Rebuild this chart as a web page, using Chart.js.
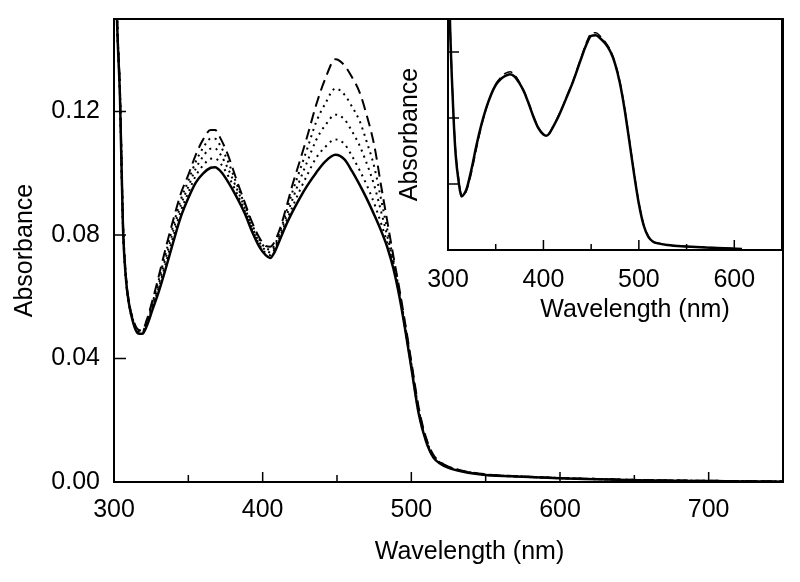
<!DOCTYPE html>
<html>
<head>
<meta charset="utf-8">
<script src="https://cdn.jsdelivr.net/npm/chart.js@4"></script>
<style>
  body { margin: 0; background: #fff; }
  #wrap { position: relative; width: 800px; height: 582px; }
  #main { position: absolute; left: 0; top: 0; }
  #inset { position: absolute; left: 390px; top: 0; }
</style>
</head>
<body>
<div id="wrap">
  <canvas id="main" width="800" height="582"></canvas>
  <canvas id="inset" width="410" height="340"></canvas>
</div>
<script>
// UV-vis spectra: main panel (solid, 3 dotted, dashed) + inset (solid, dashed)

// main panel wavelengths (nm)
const wavelengths = [300, 302, 304, 306, 308, 310, 313, 316, 319, 322, 326, 330, 335, 340, 345, 350, 355, 360, 365, 368,
  372, 377, 382, 388, 393, 398, 402, 405, 408, 412, 416, 420, 425, 430, 436, 442, 449, 455, 460, 465,
  470, 475, 480, 484, 488, 492, 496, 500, 505, 510, 515, 520, 525, 535, 550, 575, 600, 625, 650, 675,
  700, 725, 750];

const solidAbs = [0.200, 0.150, 0.125, 0.083, 0.066, 0.058, 0.0515, 0.0482, 0.0480, 0.0505, 0.0560, 0.0615, 0.0695, 0.0780, 0.0860, 0.0920, 0.0970, 0.1000, 0.1018, 0.1020,
  0.1005, 0.0970, 0.0928, 0.0870, 0.0810, 0.0760, 0.0735, 0.0726, 0.0745, 0.0790, 0.0835, 0.0875, 0.0920, 0.0960, 0.1002, 0.1038, 0.1060, 0.1045, 0.1008, 0.0965,
  0.0918, 0.0866, 0.0810, 0.0758, 0.0690, 0.0600, 0.0490, 0.0370, 0.0220, 0.0130, 0.0078, 0.0058, 0.0046, 0.0033, 0.0023, 0.0017, 0.0012, 0.0009, 0.0006, 0.0004,
  0.0003, 0.0002, 0.0001];

const dotted1Abs = [0.200, 0.1505, 0.1255, 0.0835, 0.0660, 0.0580, 0.0518, 0.0485, 0.0483, 0.0510, 0.0568, 0.0628, 0.0712, 0.0798, 0.0879, 0.0938, 0.0992, 0.1026, 0.1047, 0.1048,
  0.1030, 0.0990, 0.0942, 0.0878, 0.0817, 0.0767, 0.0742, 0.0735, 0.0753, 0.0799, 0.0846, 0.0891, 0.0945, 0.0995, 0.1050, 0.1085, 0.1110, 0.1095, 0.1057, 0.1012,
  0.0962, 0.0903, 0.0833, 0.0772, 0.0697, 0.0604, 0.0493, 0.0373, 0.0223, 0.0132, 0.0079, 0.0059, 0.0047, 0.0034, 0.0023, 0.0017, 0.0012, 0.0009, 0.0006, 0.0004,
  0.0003, 0.0002, 0.0001];

const dotted2Abs = [0.200, 0.1510, 0.1260, 0.0840, 0.0665, 0.0580, 0.0520, 0.0488, 0.0486, 0.0515, 0.0575, 0.0640, 0.0729, 0.0816, 0.0898, 0.0957, 0.1015, 0.1055, 0.1080, 0.1080,
  0.1058, 0.1012, 0.0957, 0.0888, 0.0825, 0.0775, 0.0750, 0.0744, 0.0760, 0.0808, 0.0861, 0.0915, 0.0978, 0.1038, 0.1108, 0.1155, 0.1190, 0.1175, 0.1137, 0.1092,
  0.1032, 0.0962, 0.0870, 0.0793, 0.0707, 0.0610, 0.0498, 0.0378, 0.0228, 0.0135, 0.0081, 0.0060, 0.0048, 0.0034, 0.0024, 0.0017, 0.0012, 0.0009, 0.0006, 0.0005,
  0.0003, 0.0002, 0.0001];

const dotted3Abs = [0.200, 0.1515, 0.1265, 0.0845, 0.0665, 0.0585, 0.0522, 0.0491, 0.0488, 0.0520, 0.0583, 0.0653, 0.0745, 0.0834, 0.0916, 0.0976, 0.1038, 0.1083, 0.1112, 0.1112,
  0.1085, 0.1035, 0.0972, 0.0897, 0.0833, 0.0783, 0.0758, 0.0753, 0.0767, 0.0817, 0.0877, 0.0940, 0.1010, 0.1080, 0.1166, 0.1225, 0.1275, 0.1255, 0.1217, 0.1172,
  0.1102, 0.1022, 0.0908, 0.0814, 0.0718, 0.0617, 0.0503, 0.0383, 0.0233, 0.0138, 0.0083, 0.0061, 0.0049, 0.0035, 0.0024, 0.0018, 0.0013, 0.0010, 0.0007, 0.0005,
  0.0004, 0.0003, 0.0002];

const dashedAbs = [0.200, 0.152, 0.127, 0.085, 0.067, 0.0585, 0.0525, 0.0495, 0.0491, 0.0525, 0.0590, 0.0665, 0.0762, 0.0852, 0.0935, 0.0995, 0.1060, 0.1110, 0.1140, 0.1140,
  0.1110, 0.1055, 0.0985, 0.0905, 0.0840, 0.0790, 0.0765, 0.0762, 0.0778, 0.0826, 0.0892, 0.0962, 0.1040, 0.1120, 0.1222, 0.1305, 0.1370, 0.1350, 0.1312, 0.1265,
  0.1188, 0.1092, 0.0950, 0.0840, 0.0730, 0.0625, 0.0510, 0.0390, 0.0240, 0.0142, 0.0087, 0.0063, 0.0050, 0.0036, 0.0025, 0.0018, 0.0013, 0.0010, 0.0007, 0.0005,
  0.0004, 0.0003, 0.0002];

// inset wavelengths (nm)
const insetWavelengths = [300, 302, 304, 306, 308, 311, 314, 317, 320, 325, 330, 335, 340, 345, 350, 355, 360, 365, 370, 375,
  380, 385, 390, 395, 400, 403, 406, 410, 415, 420, 425, 430, 435, 440, 445, 450, 455, 460, 465, 470,
  475, 480, 485, 490, 495, 500, 505, 510, 515, 520, 530, 545, 560, 575, 590, 608];

const insetSolidAbs = [0.200, 0.140, 0.105, 0.078, 0.058, 0.042, 0.0325, 0.034, 0.038, 0.050, 0.064, 0.076, 0.086, 0.094, 0.100, 0.1035, 0.1055, 0.1065, 0.105, 0.101,
  0.0955, 0.088, 0.080, 0.0735, 0.0700, 0.0693, 0.0705, 0.0745, 0.0800, 0.0865, 0.0935, 0.1005, 0.1085, 0.1168, 0.1245, 0.1298, 0.1302, 0.1280, 0.1250, 0.1205,
  0.1130, 0.1015, 0.0855, 0.0660, 0.0460, 0.0280, 0.0150, 0.0080, 0.0050, 0.0040, 0.0030, 0.0022, 0.0018, 0.0014, 0.0011, 0.0006];

const insetDashedAbs = [0.200, 0.141, 0.107, 0.080, 0.060, 0.044, 0.034, 0.0335, 0.037, 0.048, 0.062, 0.075, 0.0855, 0.094, 0.1005, 0.1045, 0.107, 0.108, 0.106, 0.1015,
  0.096, 0.0885, 0.0805, 0.074, 0.0703, 0.0697, 0.0708, 0.0748, 0.0805, 0.087, 0.094, 0.101, 0.1092, 0.1176, 0.1257, 0.1312, 0.1317, 0.1292, 0.1260, 0.1213,
  0.1138, 0.1025, 0.0865, 0.0670, 0.0470, 0.0288, 0.0155, 0.0083, 0.0052, 0.0042, 0.0031, 0.0023, 0.0019, 0.0015, 0.0012, 0.0007];

const FONT = '"Liberation Sans", Arial, sans-serif';
Chart.defaults.color = '#000';
Chart.defaults.font.family = FONT;

function toPoints(xs, ys) {
    return xs.map((x, i) => ({ x: x, y: ys[i] }));
}

function lineSet(xs, ys, width, dash) {
    return {
        data: toPoints(xs, ys),
        borderColor: '#000',
        borderWidth: width,
        borderDash: dash,
        pointRadius: 0,
        fill: false,
        cubicInterpolationMode: 'monotone'
    };
}

// box frame, inward tick marks and the x title (offset like the original)
const framePlugin = {
    id: 'frame',
    afterDatasetsDraw(chart, args, opts) {
        const { ctx, chartArea: a, scales } = chart;
        ctx.save();
        ctx.strokeStyle = '#000';
        ctx.lineWidth = 2;
        ctx.strokeRect(a.left, a.top, a.right - a.left, a.bottom - a.top);
        ctx.lineWidth = 1.5;
        ctx.beginPath();
        scales.x.ticks.forEach(t => {
            const px = scales.x.getPixelForValue(t.value);
            const len = t.value % 100 === 0 ? opts.major : opts.minor;
            ctx.moveTo(px, a.bottom);
            ctx.lineTo(px, a.bottom - len);
        });
        scales.y.ticks.forEach(t => {
            const py = scales.y.getPixelForValue(t.value);
            ctx.moveTo(a.left, py);
            ctx.lineTo(a.left + opts.yLen, py);
        });
        ctx.stroke();
        ctx.font = '25px ' + FONT;
        ctx.fillStyle = '#000';
        ctx.textAlign = 'center';
        ctx.textBaseline = 'middle';
        ctx.fillText('Wavelength (nm)', (a.left + a.right) / 2 + opts.xShift, a.bottom + opts.titleOffset);
        ctx.restore();
    }
};

function makeScales(xMin, xMax, yMax, yWidth, xHeight, xPad, showY, yTitlePad) {
    return {
        x: {
            type: 'linear', min: xMin, max: xMax,
            ticks: {
                stepSize: 50, autoSkip: false, maxRotation: 0, padding: xPad,
                font: { size: 25 },
                callback: v => (v % 100 === 0 && v < xMax) ? v : ''
            },
            grid: { display: false, drawTicks: false },
            border: { display: false },
            afterFit: s => { s.height = xHeight; s.paddingLeft = 0; s.paddingRight = 0; }
        },
        y: {
            min: 0, max: yMax,
            ticks: {
                stepSize: 0.04, includeBounds: false, display: showY, padding: 14,
                font: { size: 25 },
                callback: v => v.toFixed(2)
            },
            grid: { display: false, drawTicks: false },
            border: { display: false },
            title: { display: true, text: 'Absorbance', font: { size: 25 }, padding: { top: yTitlePad, bottom: 0 } },
            afterFit: s => { s.width = yWidth; s.paddingTop = 0; s.paddingBottom = 0; }
        }
    };
}

// main panel
new Chart(document.getElementById('main'), {
    type: 'line',
    data: {
        datasets: [
            lineSet(wavelengths, solidAbs, 2.5, []),
            lineSet(wavelengths, dotted1Abs, 2, [2, 4.5]),
            lineSet(wavelengths, dotted2Abs, 2, [2, 4.5]),
            lineSet(wavelengths, dotted3Abs, 2, [2, 4.5]),
            lineSet(wavelengths, dashedAbs, 2, [11, 6])
        ]
    },
    options: {
        responsive: false,
        animation: false,
        layout: { padding: { left: 0, top: 19, right: 17, bottom: 0 } },
        plugins: {
            legend: { display: false },
            tooltip: { enabled: false },
            frame: { major: 10, minor: 7, yLen: 12, xShift: 21, titleOffset: 70 }
        },
        scales: makeScales(300, 750, 0.15, 114, 100, 13, true, 10)
    },
    plugins: [framePlugin]
});

// inset
new Chart(document.getElementById('inset'), {
    type: 'line',
    data: {
        datasets: [
            lineSet(insetWavelengths, insetSolidAbs, 2.5, []),
            lineSet(insetWavelengths, insetDashedAbs, 1.5, [9, 5])
        ]
    },
    options: {
        responsive: false,
        animation: false,
        layout: { padding: { left: 0, top: 19, right: 18, bottom: 0 } },
        plugins: {
            legend: { display: false },
            tooltip: { enabled: false },
            frame: { major: 10, minor: 6, yLen: 11, xShift: 20, titleOffset: 60 }
        },
        scales: makeScales(300, 650, 0.14, 58, 90, 15, false, 5)
    },
    plugins: [framePlugin]
});
</script>
</body>
</html>
